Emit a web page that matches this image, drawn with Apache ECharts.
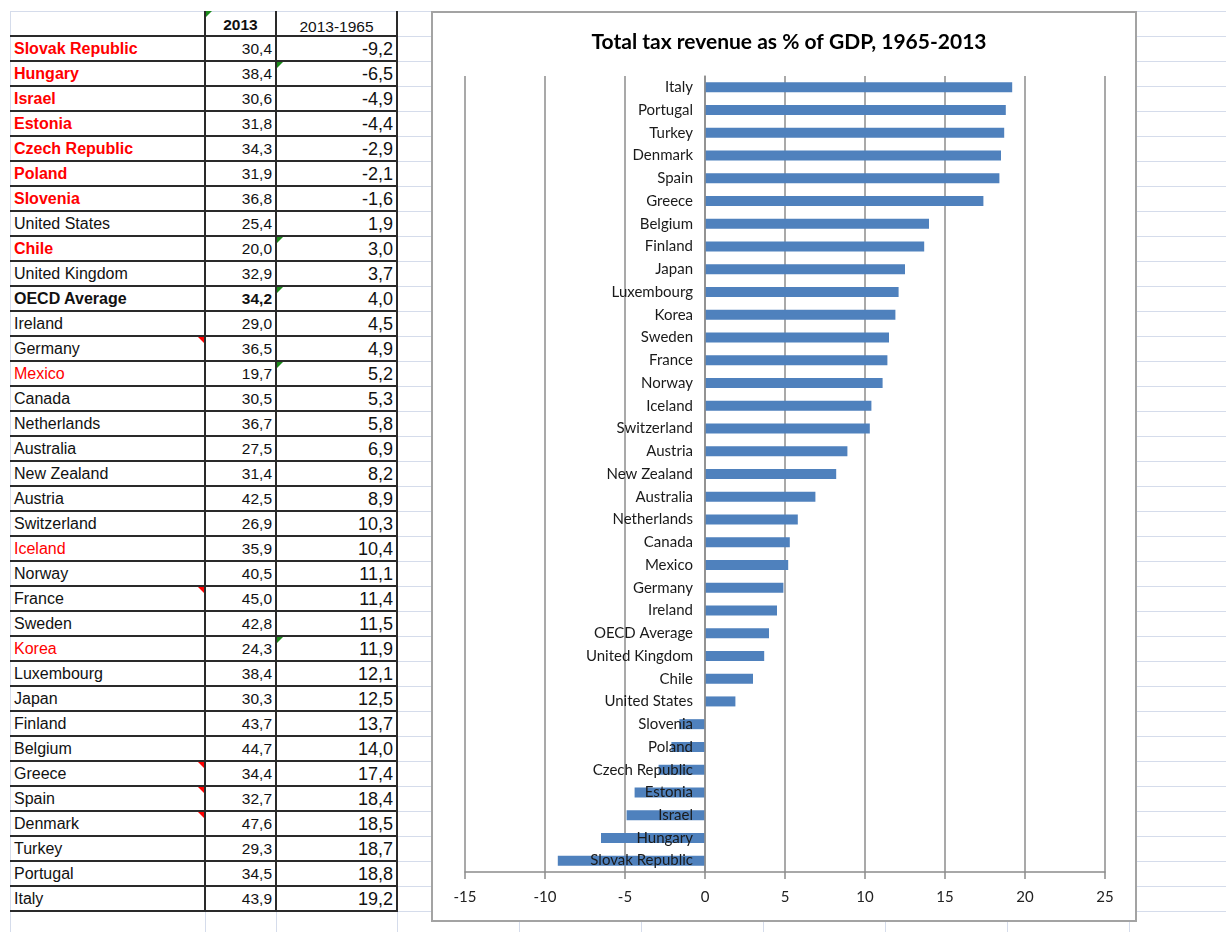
<!DOCTYPE html>
<html>
<head>
<meta charset="utf-8">
<script src="https://cdn.jsdelivr.net/npm/echarts@6/dist/echarts.min.js"></script>
<style>
    html, body { margin: 0; padding: 0; background: #fff; }
    #page { position: relative; width: 1226px; height: 932px; overflow: hidden; }
    .hl { position: absolute; left: 10px; right: 0; height: 1px; background: #d5dceb; }
    .vl { position: absolute; top: 11px; bottom: 0; width: 1px; background: #d5dceb; }
    .bl { position: absolute; background: #2a2a2a; }
    .cell { position: absolute; height: 25px; line-height: 26px; box-sizing: border-box;
        font-family: "Liberation Sans", Arial, sans-serif; font-size: 16px; color: #111; white-space: nowrap; }
    .num { text-align: right; padding-right: 4px; font-size: 15.5px; }
    .big { font-size: 18px; }
    .mark { position: absolute; width: 0; height: 0; }
    #chartBox { position: absolute; left: 431px; top: 11px; width: 706px; height: 911px;
        box-sizing: border-box; border: 2px solid #a3a3a3; background: #fff; }
    #main { position: absolute; left: 0; top: 0; width: 1226px; height: 932px; }
</style>
</head>
<body>
<div id="page">
    <div id="grid"></div>
    <div id="sheet"></div>
    <div id="chartBox"></div>
    <div id="main"></div>
</div>
<script>
    // table rows, bottom of the chart first
    const countries = ["Slovak Republic", "Hungary", "Israel", "Estonia", "Czech Republic", "Poland", "Slovenia",
        "United States", "Chile", "United Kingdom", "OECD Average", "Ireland", "Germany", "Mexico", "Canada",
        "Netherlands", "Australia", "New Zealand", "Austria", "Switzerland", "Iceland", "Norway", "France",
        "Sweden", "Korea", "Luxembourg", "Japan", "Finland", "Belgium", "Greece", "Spain", "Denmark", "Turkey",
        "Portugal", "Italy"];
    const tax2013 = ["30,4", "38,4", "30,6", "31,8", "34,3", "31,9", "36,8", "25,4", "20,0", "32,9", "34,2", "29,0",
        "36,5", "19,7", "30,5", "36,7", "27,5", "31,4", "42,5", "26,9", "35,9", "40,5", "45,0", "42,8", "24,3",
        "38,4", "30,3", "43,7", "44,7", "34,4", "32,7", "47,6", "29,3", "34,5", "43,9"];
    const change = [-9.2, -6.5, -4.9, -4.4, -2.9, -2.1, -1.6, 1.9, 3.0, 3.7, 4.0, 4.5, 4.9, 5.2, 5.3, 5.8, 6.9,
        8.2, 8.9, 10.3, 10.4, 11.1, 11.4, 11.5, 11.9, 12.1, 12.5, 13.7, 14.0, 17.4, 18.4, 18.5, 18.7, 18.8, 19.2];
    const headers = ["", "2013", "2013-1965"];
    const xTicks = [-15, -10, -5, 0, 5, 10, 15, 20, 25];

    const redBold = ["Slovak Republic", "Hungary", "Israel", "Estonia", "Czech Republic", "Poland", "Slovenia", "Chile"];
    const redPlain = ["Mexico", "Iceland", "Korea"];
    const greenNotes = ["Hungary", "Chile", "OECD Average", "Mexico", "Korea"];
    const redNotes = ["Germany", "France", "Greece", "Spain", "Denmark"];

    // spreadsheet background
    let g = document.getElementById("grid");
    for (let k = 0; k <= 36; k++) {
        g.innerHTML += `<div class="hl" style="top:${11 + 25 * k}px"></div>`;
    }
    [10, 205, 276, 397, 519, 641, 763, 885, 1007, 1129].forEach(x => {
        g.innerHTML += `<div class="vl" style="left:${x}px"></div>`;
    });

    // the table
    let s = document.getElementById("sheet");
    let html = "";
    html += `<div class="cell num" style="left:205px;top:11px;width:71px;font-weight:bold;text-align:center;padding:0;line-height:28px">${headers[1]}</div>`;
    html += `<div class="cell num" style="left:276px;top:11px;width:121px;text-align:center;padding:0;line-height:32px">${headers[2]}</div>`;
    html += `<div class="mark" style="left:206px;top:11px;border-top:6px solid #1b8a1b;border-right:6px solid transparent"></div>`;
    countries.forEach((c, i) => {
        let top = 36 + 25 * i;
        let st = "";
        if (redBold.includes(c)) st = "color:#ff0000;font-weight:bold";
        else if (redPlain.includes(c)) st = "color:#ff0000";
        else if (c === "OECD Average") st = "font-weight:bold";
        html += `<div class="cell" style="left:14px;top:${top}px;width:190px;${st}">${c}</div>`;
        html += `<div class="cell num" style="left:205px;top:${top}px;width:71px;${c === "OECD Average" ? "font-weight:bold" : ""}">${tax2013[i]}</div>`;
        html += `<div class="cell num big" style="left:276px;top:${top}px;width:121px">${change[i].toFixed(1).replace(".", ",")}</div>`;
        if (greenNotes.includes(c)) {
            html += `<div class="mark" style="left:277px;top:${top + 1}px;border-top:6px solid #1b8a1b;border-right:6px solid transparent"></div>`;
        }
        if (redNotes.includes(c)) {
            html += `<div class="mark" style="left:198px;top:${top + 1}px;border-top:6px solid #ff0000;border-left:6px solid transparent"></div>`;
        }
    });
    for (let k = 0; k <= countries.length; k++) {
        html += `<div class="bl" style="left:10px;top:${35 + 25 * k}px;width:388px;height:2px"></div>`;
    }
    [205, 276, 397].forEach(x => {
        html += `<div class="bl" style="left:${x - 1}px;top:11px;width:2px;height:901px"></div>`;
    });
    s.innerHTML = html;

    // the chart
    let chart = echarts.init(document.getElementById("main"));
    let option = {
        animation: false,
        title: {
            text: "Total tax revenue as % of GDP, 1965-2013",
            left: 784,
            top: 27,
            textAlign: "center",
            textStyle: {fontFamily: "Lato", fontWeight: "bold", fontSize: 21, color: "#000"}
        },
        grid: {left: 465, right: 121, top: 76, bottom: 60},
        xAxis: {
            type: "value",
            min: xTicks[0],
            max: xTicks[xTicks.length - 1],
            interval: 5,
            axisLine: {show: true, onZero: false, lineStyle: {color: "#8c8c8c", width: 1.5}},
            axisTick: {show: true, length: 7, lineStyle: {color: "#8c8c8c", width: 1.5}},
            splitLine: {show: true, lineStyle: {color: "#8c8c8c", width: 1.5}},
            axisLabel: {margin: 18, fontFamily: "Lato", fontSize: 15, color: "#222"}
        },
        yAxis: {
            type: "category",
            data: countries,
            z: 3,
            axisLine: {onZero: false, lineStyle: {color: "#8c8c8c", width: 1.5}},
            axisTick: {length: 5, lineStyle: {color: "#8c8c8c", width: 1.5}},
            axisLabel: {margin: 12, fontFamily: "Lato", fontSize: 15, color: "#1a1a1a"}
        },
        series: [{
            type: "bar",
            data: change,
            barWidth: 10,
            itemStyle: {color: "#4f81bd"}
        }]
    };
    chart.setOption(option);

    // move the category axis onto x = 0, as in the spreadsheet chart
    let zeroX = chart.convertToPixel({xAxisIndex: 0}, 0);
    let leftX = chart.convertToPixel({xAxisIndex: 0}, xTicks[0]);
    chart.setOption({yAxis: {offset: leftX - zeroX}});
</script>
</body>
</html>
